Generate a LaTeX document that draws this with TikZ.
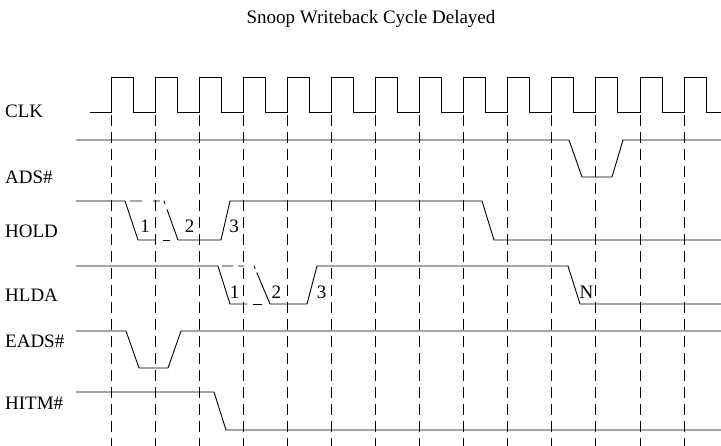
\documentclass[tikz,border=0pt]{standalone}
\usepackage{fontspec}
\setmainfont{Liberation Serif}
\tikzset{
  sig/.style={line width=0.9pt, line join=miter},
  alt/.style={line width=0.9pt},
  tick/.style={line width=0.9pt, dash pattern=on 11pt off 6pt},
  lbl/.style={anchor=west, inner sep=0pt, font=\fontsize{19}{22}\selectfont},
  num/.style={inner sep=0pt, font=\fontsize{19}{22}\selectfont}
}
\begin{document}
\begin{tikzpicture}[x=1pt, y=-1pt]
\useasboundingbox (0,0) rectangle (721,446);
\node[num] (title) at (371,19) {Snoop Writeback Cycle Delayed};
\foreach \i in {0,...,13}
  \draw[tick] ({111+44.08*\i},115) -- ({111+44.08*\i},446);
\draw[sig] (90,112) foreach \i in {0,...,13} {
  -- ({111+44.08*\i},112) -- ({111+44.08*\i},77)
  -- ({133+44.08*\i},77) -- ({133+44.08*\i},112) } -- (721,112);
\node[lbl] (clk) at (5,111) {CLK};
\node[lbl] (ads) at (5,177) {ADS\#};
\node[lbl] (hold) at (5,231) {HOLD};
\node[lbl] (hlda) at (5,295) {HLDA};
\node[lbl] (eads) at (5,341.5) {EADS\#};
\node[lbl] (hitm) at (5,403.5) {HITM\#};
\draw[sig] (76,140) -- (569,140) -- (582,177) -- (612,177) -- (623,140) -- (721,140);
\draw[sig] (76,201) -- (125,201) -- (138,240) -- (155,240);
\draw[alt, dash pattern=on 0pt off 5pt on 12pt off 11pt on 7pt off 4pt on 3pt off 6pt on 40pt off 2pt]
  (125,201) -- (164,201) -- (178,240);
\draw[alt, dash pattern=on 0pt off 8pt on 7pt off 20pt] (155,240) -- (178,240);
\draw[sig] (178,240) -- (221,240) -- (230,201) -- (482,201) -- (494,240) -- (721,240);
\node[num] (hold1) at (145,226) {1};
\node[num] (hold2) at (189.5,226) {2};
\node[num] (hold3) at (234,226) {3};
\draw[sig] (76,266) -- (218,266) -- (230,304) -- (247,304);
\draw[alt, dash pattern=on 0pt off 4pt on 11pt off 5pt on 6pt off 10pt on 3pt off 4pt on 40pt off 2pt]
  (218,266) -- (254,266) -- (270,304);
\draw[alt, dash pattern=on 0pt off 6pt on 9pt off 20pt] (247,304) -- (270,304);
\draw[sig] (270,304) -- (307,304) -- (317,266) -- (568,266) -- (580,304) -- (721,304);
\node[num] (hlda1) at (234.7,292.5) {1};
\node[num] (hlda2) at (276.3,292.5) {2};
\node[num] (hlda3) at (321.7,292.5) {3};
\node[num] (hldan) at (586.5,292.5) {N};
\draw[sig] (76,331) -- (126,331) -- (139,368) -- (168,368) -- (181,331) -- (721,331);
\draw[sig] (76,392) -- (214,392) -- (226,430) -- (721,430);
\end{tikzpicture}
\end{document}
